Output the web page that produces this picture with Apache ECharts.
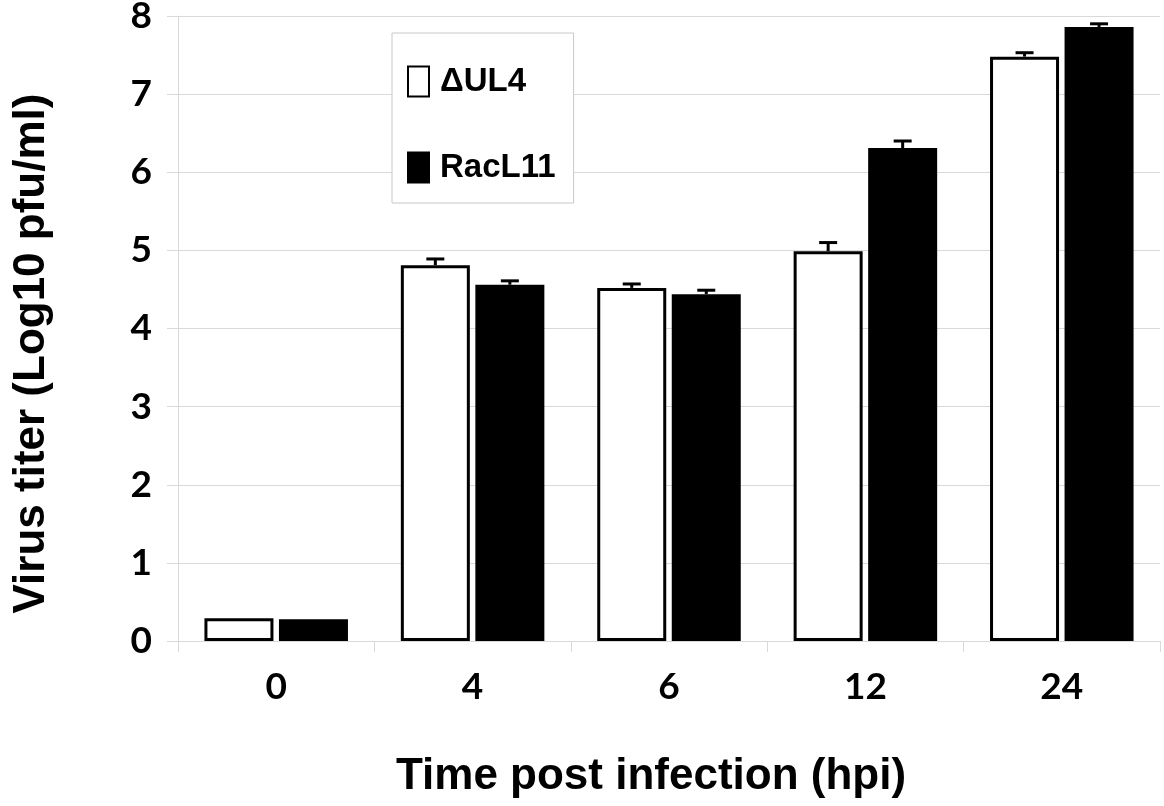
<!DOCTYPE html>
<html><head><meta charset="utf-8">
<script src="https://cdn.jsdelivr.net/npm/echarts@6/dist/echarts.min.js"></script>
<style>html,body{margin:0;padding:0;background:#fff}#c{width:1164px;height:806px}</style>
</head><body><div id="c"></div>
<script>
const categories = ['0', '4', '6', '12', '24'];
const ul4Values = [0.29, 4.81, 4.52, 4.99, 7.48];
const ul4Errors = [0.0, 0.08, 0.05, 0.11, 0.05];
const racValues = [0.28, 4.56, 4.44, 6.31, 7.86];
const racErrors = [0.0, 0.05, 0.05, 0.09, 0.04];
const seriesNames = ['\u0394UL4', 'RacL11'];

const BAR_W = 69, GAP = '8%';
const offset = (BAR_W + BAR_W * 0.08) / 2;

function errData(vals, errs) {
  return vals.map((v, i) => [i, v, errs[i]]);
}
function errRender(sign) {
  return function (params, api) {
    const i = api.value(0), v = api.value(1), e = api.value(2);
    if (!e) return null;
    const base = api.coord([i, v]);
    const top = api.coord([i, v + e]);
    const x = base[0] + sign * offset;
    const cap = 9;
    const style = { stroke: '#000', lineWidth: 3 };
    return { type: 'group', children: [
      { type: 'line', shape: { x1: x, y1: base[1], x2: x, y2: top[1] }, style },
      { type: 'line', shape: { x1: x - cap, y1: top[1], x2: x + cap, y2: top[1] }, style }
    ]};
  };
}

const chart = echarts.init(document.getElementById('c'));
chart.setOption({
  animation: false,
  grid: { left: 178, right: 4, top: 16, bottom: 165, containLabel: false, outerBoundsMode: 'none' },
  legend: {
    data: seriesNames,
    orient: 'vertical', left: 392, top: 33,
    backgroundColor: '#fff', borderColor: '#c8c8c8', borderWidth: 1,
    padding: [32, 18, 19, 15], itemGap: 53,
    icon: 'rect', itemWidth: 21, itemHeight: 30,
    itemStyle: { borderWidth: 2 },
    textStyle: { fontFamily: 'Liberation Sans', fontWeight: 'bold', fontSize: 33, lineHeight: 30, color: '#000', padding: [0, 0, 0, 6] }
  },
  xAxis: {
    type: 'category', data: categories,
    name: 'Time post infection (hpi)', nameLocation: 'middle', nameGap: 114,
    nameTextStyle: { fontFamily: 'Liberation Sans', fontWeight: 'bold', fontSize: 44, color: '#000', padding: [0, 36, 0, 0] },
    axisLine: { lineStyle: { color: '#d9d9d9', width: 1 } },
    axisTick: { show: true, length: 11, lineStyle: { color: '#d9d9d9' } },
    axisLabel: { fontFamily: 'Lato', fontWeight: 'bold', fontSize: 37, color: '#000', margin: 28 }
  },
  yAxis: {
    type: 'value', min: 0, max: 8, interval: 1,
    name: 'Virus titer (Log10 pfu/ml)', nameLocation: 'middle', nameGap: 124, nameRotate: 90,
    nameTextStyle: { fontFamily: 'Liberation Sans', fontWeight: 'bold', fontSize: 44, color: '#000', padding: [0, 50, 0, 0] },
    axisLine: { show: true, lineStyle: { color: '#d9d9d9', width: 1 } },
    axisTick: { show: true, length: 11, lineStyle: { color: '#d9d9d9' } },
    splitLine: { lineStyle: { color: '#d9d9d9', width: 1 } },
    axisLabel: { fontFamily: 'Lato', fontWeight: 'bold', fontSize: 37, color: '#000', margin: 26 }
  },
  series: [
    { name: seriesNames[0], type: 'bar', data: ul4Values, barWidth: BAR_W, barGap: GAP,
      itemStyle: { color: '#fff', borderColor: '#000', borderWidth: 3 }, z: 2 },
    { name: seriesNames[1], type: 'bar', data: racValues, barWidth: BAR_W, barGap: GAP,
      itemStyle: { color: '#000', borderColor: '#000', borderWidth: 0 }, z: 2 },
    { type: 'custom', data: errData(ul4Values, ul4Errors), renderItem: errRender(-1), z: 3 },
    { type: 'custom', data: errData(racValues, racErrors), renderItem: errRender(1), z: 3 }
  ]
});
</script></body></html>
